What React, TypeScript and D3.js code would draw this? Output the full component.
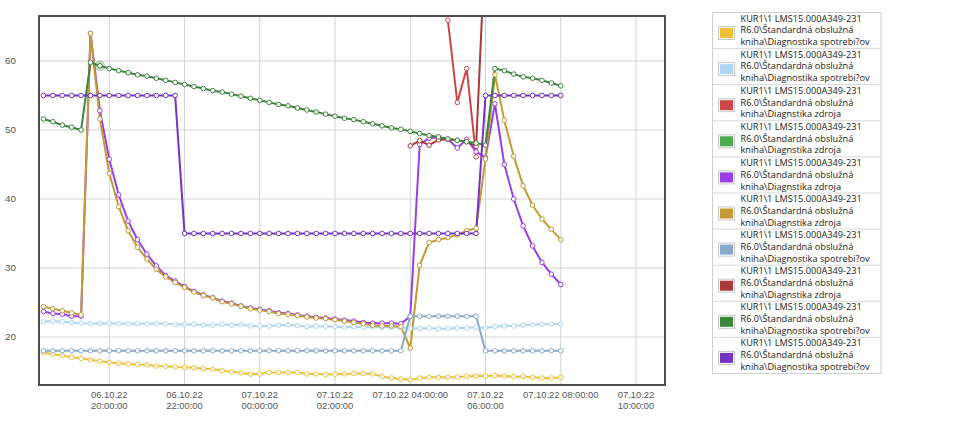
import React from 'react';
import * as d3 from 'd3';

const times = [
  '2022-10-06T18:15', '2022-10-06T18:30', '2022-10-06T18:45', '2022-10-06T19:00',
  '2022-10-06T19:15', '2022-10-06T19:30', '2022-10-06T19:45', '2022-10-06T20:00',
  '2022-10-06T20:15', '2022-10-06T20:30', '2022-10-06T20:45', '2022-10-06T21:00',
  '2022-10-06T21:15', '2022-10-06T21:30', '2022-10-06T21:45', '2022-10-06T22:00',
  '2022-10-06T22:15', '2022-10-06T22:30', '2022-10-06T22:45', '2022-10-06T23:00',
  '2022-10-06T23:15', '2022-10-06T23:30', '2022-10-06T23:45', '2022-10-07T00:00',
  '2022-10-07T00:15', '2022-10-07T00:30', '2022-10-07T00:45', '2022-10-07T01:00',
  '2022-10-07T01:15', '2022-10-07T01:30', '2022-10-07T01:45', '2022-10-07T02:00',
  '2022-10-07T02:15', '2022-10-07T02:30', '2022-10-07T02:45', '2022-10-07T03:00',
  '2022-10-07T03:15', '2022-10-07T03:30', '2022-10-07T03:45', '2022-10-07T04:00',
  '2022-10-07T04:15', '2022-10-07T04:30', '2022-10-07T04:45', '2022-10-07T05:00',
  '2022-10-07T05:15', '2022-10-07T05:30', '2022-10-07T05:45', '2022-10-07T06:00',
  '2022-10-07T06:15', '2022-10-07T06:30', '2022-10-07T06:45', '2022-10-07T07:00',
  '2022-10-07T07:15', '2022-10-07T07:30', '2022-10-07T07:45', '2022-10-07T08:00',
];

const N = null;

const s1Yellow = [17.75, 17.5, 17.3, 17.05, 16.9, 16.7, 16.5, 16.3, 16.2, 16.1,
  16.0, 15.95, 15.8, 15.75, 15.65, 15.6, 15.55, 15.4, 15.35, 15.1,
  14.95, 14.8, 14.6, 14.65, 14.85, 14.85, 14.85, 14.85, 14.65, 14.65,
  14.55, 14.6, 14.65, 14.7, 14.7, 14.65, 14.25, 14.05, 13.9, 13.8,
  14.05, 14.15, 14.15, 14.15, 14.2, 14.3, 14.35, 14.35, 14.4, 14.35,
  14.25, 14.25, 14.15, 14.05, 14.05, 14.15];

const s2LightBlue = [22.2, 22.3, 22.2, 22.1, 22.0, 21.95, 21.95, 22.0, 21.95, 21.9,
  21.95, 21.9, 21.95, 21.9, 21.8, 21.8, 21.85, 21.7, 21.7, 21.85,
  21.7, 21.8, 21.6, 21.6, 21.6, 21.7, 21.75, 21.65, 21.5, 21.55,
  21.55, 21.5, 21.4, 21.5, 21.4, 21.45, 21.4, 21.4, 21.35, 21.3,
  21.2, 21.3, 21.2, 21.2, 21.3, 21.3, 21.4, 21.3, 21.5, 21.6,
  21.6, 21.7, 21.8, 21.85, 21.85, 21.9];

const s3Red = [N, N, N, N, N, N, N, N, N, N,
  N, N, N, N, N, N, N, N, N, N,
  N, N, N, N, N, N, N, N, N, N,
  N, N, N, N, N, N, N, N, N, N,
  N, N, N, 65.9, 54.0, 58.9, 46.1, N, N, N,
  N, N, N, N, N, N];

const s4Green = [N, N, N, N, N, N, N, N, N, N,
  N, N, N, N, N, N, N, N, N, N,
  N, N, N, N, N, N, N, N, N, N,
  N, N, N, N, N, N, N, N, N, N,
  N, N, N, N, N, N, N, N, N, N,
  N, N, N, N, N, N];

const s5Violet = [23.7, 23.4, 23.3, 23.0, 23.0, 64.0, 52.8, 45.75, 40.6, 36.8,
  34.1, 32.0, 30.3, 28.9, 28.1, 27.3, 26.6, 26.1, 25.7, 25.2,
  24.9, 24.5, 24.2, 24.0, 23.8, 23.5, 23.4, 23.2, 23.0, 22.85,
  22.75, 22.6, 22.45, 22.3, 22.1, 22.0, 22.0, 22.0, 21.9, 23.0,
  47.9, 48.8, 48.95, 48.65, 47.4, 48.65, 46.85, 46.0, 53.8, 45.0,
  40.0, 36.1, 33.2, 30.8, 29.1, 27.6];

const s6Gold = [24.4, 24.1, 23.8, 23.5, 23.2, 64.0, 51.6, 43.7, 38.9, 35.4,
  33.0, 31.3, 29.8, 28.7, 27.9, 27.2, 26.5, 26.0, 25.65, 25.1,
  24.8, 24.45, 24.1, 23.9, 23.7, 23.4, 23.3, 23.1, 22.9, 22.75,
  22.65, 22.5, 22.3, 22.1, 21.9, 21.7, 21.6, 21.6, 21.5, 18.4,
  30.4, 33.7, 34.1, 34.4, 34.8, 35.4, 35.75, 45.8, 58.0, 51.4,
  46.2, 41.9, 39.1, 37.1, 35.6, 34.1];

const s7SteelBlue = [18.0, 18.0, 18.0, 18.0, 18.0, 18.0, 18.0, 18.0, 18.0, 18.0,
  18.0, 18.0, 18.0, 18.0, 18.0, 18.0, 18.0, 18.0, 18.0, 18.0,
  18.0, 18.0, 18.0, 18.0, 18.0, 18.0, 18.0, 18.0, 18.0, 18.0,
  18.0, 18.0, 18.0, 18.0, 18.0, 18.0, 18.0, 18.0, 18.0, 23.0,
  23.0, 23.0, 23.0, 23.0, 23.0, 23.0, 23.0, 18.0, 18.0, 18.0,
  18.0, 18.0, 18.0, 18.0, 18.0, 18.0];

const s8DarkRed = [N, N, N, N, N, N, N, N, N, N,
  N, N, N, N, N, N, N, N, N, N,
  N, N, N, N, N, N, N, N, N, N,
  N, N, N, N, N, N, N, N, N, 47.7,
  48.45, 47.8, 48.55, 48.65, 48.5, 48.3, 47.6, 78.0, N, N,
  N, N, N, N, N, N];

const s9DarkGreen = [51.6, 51.2, 50.7, 50.4, 50.0, 59.8, 59.3, 58.9, 58.6, 58.3,
  58.0, 57.8, 57.5, 57.2, 56.9, 56.6, 56.3, 56.0, 55.7, 55.5,
  55.2, 54.9, 54.6, 54.3, 54.0, 53.7, 53.5, 53.2, 52.9, 52.6,
  52.3, 52.0, 51.7, 51.5, 51.2, 50.9, 50.6, 50.3, 50.1, 49.8,
  49.5, 49.2, 49.0, 48.7, 48.5, 48.3, 48.1, 47.8, 58.9, 58.6,
  58.1, 57.7, 57.5, 57.2, 56.8, 56.4];

const s10Purple = [55, 55, 55, 55, 55, 55, 55, 55, 55, 55,
  55, 55, 55, 55, 55, 35, 35, 35, 35, 35,
  35, 35, 35, 35, 35, 35, 35, 35, 35, 35,
  35, 35, 35, 35, 35, 35, 35, 35, 35, 35,
  35, 35, 35, 35, 35, 35, 35, 55, 55, 55,
  55, 55, 55, 55, 55, 55];

const seriesValues = [s1Yellow, s2LightBlue, s3Red, s4Green, s5Violet, s6Gold, s7SteelBlue, s8DarkRed, s9DarkGreen, s10Purple];
const seriesColors = ['#efc03c', '#acd6f4', '#cc4646', '#4caa4c', '#9a3fe6', '#c39a33', '#88a9c8', '#a93a3a', '#3b863b', '#7732c2'];
const legendLine1 = 'KUR1\\1 LMS15.000A349-231';
const legendLine2 = 'R6.0\\Štandardná obslužná';
const legendLine3 = [
  'kniha\\Diagnostika spotrebi?ov',
  'kniha\\Diagnostika spotrebi?ov',
  'kniha\\Diagnstika zdroja',
  'kniha\\Diagnstika zdroja',
  'kniha\\Diagnstika zdroja',
  'kniha\\Diagnstika zdroja',
  'kniha\\Diagnostika spotrebi?ov',
  'kniha\\Diagnstika zdroja',
  'kniha\\Diagnostika spotrebi?ov',
  'kniha\\Diagnostika spotrebi?ov',
];

const xTickTimes = ['2022-10-06T20:00', '2022-10-06T22:00', '2022-10-07T00:00', '2022-10-07T02:00',
  '2022-10-07T04:00', '2022-10-07T06:00', '2022-10-07T08:00', '2022-10-07T10:00'];
const xTickLine1 = ['06.10.22', '06.10.22', '07.10.22', '07.10.22', '07.10.22 04:00:00', '07.10.22', '07.10.22 08:00:00', '07.10.22'];
const xTickLine2 = ['20:00:00', '22:00:00', '00:00:00', '02:00:00', '', '06:00:00', '', '10:00:00'];
const yTicks = [20, 30, 40, 50, 60];
const xDomain = ['2022-10-06T18:07:53', '2022-10-07T10:46:15'];
const yDomain = [13.04, 66.52];

const FONT = '"Open Sans", "Segoe UI", sans-serif';
const AXIS_FONT = '"Liberation Sans", Arial, sans-serif';

export default function App() {
  const W = 953, H = 426;
  const L = 39, T = 16, R = 665, B = 385;
  const parse = d3.timeParse('%Y-%m-%dT%H:%M');
  const parseS = d3.timeParse('%Y-%m-%dT%H:%M:%S');
  const dates = times.map((t) => parse(t) as Date);
  const x = d3.scaleTime().domain([parseS(xDomain[0]) as Date, parseS(xDomain[1]) as Date]).range([L, R]);
  const y = d3.scaleLinear().domain(yDomain).range([B, T]);

  const line = d3.line<number | null>()
    .defined((d) => d !== null)
    .x((_, i) => x(dates[i]))
    .y((d) => y(d as number));

  const xTicks = xTickTimes.map((t) => parse(t) as Date);

  const legX = 712.5, legY = 12.5, legW = 168.5, itemH = 36.1;

  const haloIdx = 6;

  return (
    <svg width={W} height={H} style={{ position: 'absolute', left: 0, top: 0, fontFamily: FONT }}>
      <defs>
        <clipPath id="plotClip">
          <rect x={L} y={T} width={R - L} height={B - T} />
        </clipPath>
      </defs>
      <rect x={0} y={0} width={W} height={H} fill="#fff" />
      {xTicks.map((d, i) => (
        <line key={'gx' + i} x1={x(d)} x2={x(d)} y1={T} y2={B} stroke="#d2d2d2" strokeWidth={1} />
      ))}
      {yTicks.map((v, i) => (
        <line key={'gy' + i} x1={L} x2={R} y1={y(v)} y2={y(v)} stroke="#d2d2d2" strokeWidth={1} />
      ))}
      <g clipPath="url(#plotClip)">
        {seriesValues.map((vals, si) => (
          <path key={'l' + si} d={line(vals) || ''} fill="none" stroke={seriesColors[si]} strokeWidth={2} strokeLinejoin="round" />
        ))}
        <circle cx={x(dates[haloIdx])} cy={y(s9DarkGreen[haloIdx] as number)} r={5.5} fill={seriesColors[8]} fillOpacity={0.3} />
        {seriesValues.map((vals, si) => (
          <g key={'m' + si}>
            {vals.map((v, i) => v === null ? null : (
              <circle key={i} cx={x(dates[i])} cy={y(v)} r={2.3} fill="#fff" stroke={seriesColors[si]} strokeWidth={1} />
            ))}
          </g>
        ))}
      </g>
      <rect x={L} y={T} width={R - L} height={B - T} fill="none" stroke="#4d4d4d" strokeWidth={2} />
      {yTicks.map((v, i) => (
        <text key={'yl' + i} x={16} y={y(v)} dy="0.35em" textAnchor="end" fontSize={9.8} fill="#555" fontFamily={AXIS_FONT}>{v}</text>
      ))}
      {xTicks.map((d, i) => (
        <text key={'xl' + i} x={x(d)} y={397.6} textAnchor="middle" fontSize={9.4} fill="#555" fontFamily={AXIS_FONT}>
          <tspan x={x(d)}>{xTickLine1[i]}</tspan>
          {xTickLine2[i] ? <tspan x={x(d)} dy={10.9}>{xTickLine2[i]}</tspan> : null}
        </text>
      ))}
      <rect x={legX} y={legY} width={legW} height={itemH * 10} fill="#fff" stroke="#cfcfcf" strokeWidth={1} />
      {seriesColors.map((c, i) => {
        const top = legY + i * itemH;
        return (
          <g key={'lg' + i}>
            {i > 0 ? <line x1={legX} x2={legX + legW} y1={top} y2={top} stroke="#d8d8d8" strokeWidth={1} /> : null}
            <rect x={718.5} y={top + 14} width={16} height={13} fill="#fff" stroke="#c8c8c8" strokeWidth={1} />
            <rect x={720} y={top + 15.5} width={13} height={10} fill={c} />
            <text x={740.5} y={top + 9} fontSize={9.2} fill="#222">
              <tspan x={740.5}>{legendLine1}</tspan>
              <tspan x={740.5} dy={11.8}>{legendLine2}</tspan>
              <tspan x={740.5} dy={11.8}>{legendLine3[i]}</tspan>
            </text>
          </g>
        );
      })}
    </svg>
  );
}
